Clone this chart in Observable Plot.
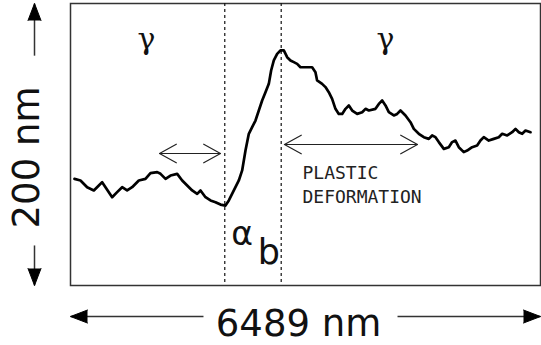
<!DOCTYPE html>
<html><head><meta charset="utf-8">
<script src="https://cdn.jsdelivr.net/npm/d3@7"></script>
<script src="https://cdn.jsdelivr.net/npm/@observablehq/plot@0.6"></script>
<style>body{margin:0;background:#fff}</style>
</head><body><div id="chart"></div>
<script>
// Surface height profile across an alpha_b band (nm)
const distanceNm = [55,138,230,322,391,437,483,575,644,713,782,851,943,1035,1104,1197,1243,1312,1381,1473,1542,1611,1680,1749,1795,1864,1933,2002,2071,2140,2186,2255,2324,2370,2416,2462,2508,2554,2600,2646,2692,2738,2770,2807,2853,2899,2945,2991,3037,3083,3129,3175,3221,3290,3336,3382,3405,3474,3520,3566,3612,3658,3704,3751,3797,3843,3889,3958,4027,4073,4119,4211,4257,4303,4349,4395,4464,4510,4556,4625,4694,4740,4809,4878,4947,4993,5039,5085,5154,5223,5269,5315,5361,5430,5476,5545,5614,5660,5706,5775,5844,5913,5960,6029,6098,6144,6190,6236,6282,6351];
const heightNm = [75.6,74.5,69.7,67.4,70.9,73.3,69.7,62.6,66.2,69.7,67.4,69.7,74.5,75.6,79.7,80.4,79.2,75.6,78.0,79.2,74.5,70.9,67.4,65.0,67.4,62.6,60.3,59.1,57.4,56.7,60.3,67.4,74.5,81.6,95.7,107.6,112.3,117.0,124.1,131.2,137.1,143.0,152.5,159.6,164.3,166.7,166.7,161.9,159.6,158.4,157.2,154.8,154.8,154.8,154.8,151.3,145.4,143.0,140.7,137.1,132.4,125.3,121.7,121.7,125.3,127.7,124.1,121.7,122.9,125.3,124.1,125.3,128.8,131.2,127.7,122.9,120.6,121.7,124.1,120.6,115.8,111.1,107.6,105.2,104.0,106.4,105.2,101.7,96.9,98.1,101.7,102.8,98.1,94.6,95.7,98.1,99.3,102.8,105.2,102.8,104.0,105.2,107.6,106.4,108.7,111.1,108.7,107.6,109.9,108.7];

const scanLengthNm = 6489;
const scanHeightNm = 200;
const bandEdgesNm = [2130, 2909];

// annotation anchors (data units, nm)
const phaseLabel = "γ";
const phaseAnchorsX = [1049, 4349];
const phaseAnchorY = 174.5;
const spanArrows = [
  {from: 1229, to: 2071, y: 93.6},
  {from: 2954, to: 4791, y: 100.0}
];
const noteLines = ["PLASTIC", "DEFORMATION"];
const noteX = 3203;
const noteY = [79.7, 62.7];
const xLabel = "6489 nm";
const yLabel = "200 nm";

const profile = distanceNm.map((d, i) => ({d, h: heightNm[i]}));
const arrowsBoth = spanArrows.flatMap(a => [
  {x1: a.from, x2: a.to, y: a.y},
  {x1: a.to, x2: a.from, y: a.y}
]);

const xArrowY = -22.0;
const yArrowX = -497;
const axisShafts = [
  {x1: 0, x2: 1836, y1: xArrowY, y2: xArrowY},
  {x1: 4515, x2: scanLengthNm, y1: xArrowY, y2: xArrowY},
  {x1: yArrowX, x2: yArrowX, y1: scanHeightNm, y2: 163},
  {x1: yArrowX, x2: yArrowX, y1: 28.4, y2: 0}
];
const axisHeads = [
  {x: 0, y: xArrowY, r: -90},
  {x: scanLengthNm, y: xArrowY, r: 90},
  {x: yArrowX, y: scanHeightNm, r: 0},
  {x: yArrowX, y: 0, r: 180}
];

const chart = Plot.plot({
  width: 541,
  height: 345,
  marginLeft: 70,
  marginRight: 1,
  marginTop: 3,
  marginBottom: 60,
  x: {domain: [0, scanLengthNm], axis: null},
  y: {domain: [0, scanHeightNm], axis: null},
  style: {background: "white", overflow: "visible"},
  marks: [
    Plot.frame({stroke: "#333", strokeWidth: 1.5}),
    Plot.ruleX(bandEdgesNm, {stroke: "#111", strokeWidth: 1.2, strokeDasharray: "3,3"}),
    Plot.line(profile, {x: "d", y: "h", stroke: "black", strokeWidth: 2.7, strokeLinejoin: "round"}),
    Plot.arrow(arrowsBoth, {x1: "x1", x2: "x2", y1: "y", y2: "y", stroke: "#222", strokeWidth: 1.2, headLength: 24, headAngle: 58}),
    Plot.text(phaseAnchorsX, {x: d => d, y: phaseAnchorY, text: () => phaseLabel, fontSize: 30, fontFamily: "DejaVu Serif", fill: "#111"}),
    Plot.text(noteLines, {x: noteX, y: (d, i) => noteY[i], text: d => d, textAnchor: "start", fontSize: 18, fontFamily: "DejaVu Sans Mono", fill: "#222", style: "letter-spacing:1px"}),
    Plot.text(["α"], {x: 2368, y: 36.2, text: d => d, fontSize: 33, fontFamily: "DejaVu Sans", fill: "#111"}),
    Plot.text(["b"], {x: 2740, y: 23.4, text: d => d, fontSize: 35, fontFamily: "DejaVu Sans", fill: "#111"}),
    Plot.link(axisShafts, {x1: "x1", x2: "x2", y1: "y1", y2: "y2", stroke: "#333", strokeWidth: 1.5}),
    Plot.vector(axisHeads, {x: "x", y: "y", rotate: "r", length: 17, r: 6.5, shape: "spike", anchor: "end", fill: "black", stroke: "black", strokeWidth: 1}),
    Plot.text([xLabel], {text: d => d, frameAnchor: "bottom", lineAnchor: "middle", textAnchor: "middle", dx: -7, dy: 39, fontSize: 37, fontFamily: "DejaVu Sans", fill: "#111"}),
    Plot.text([yLabel], {text: d => d, frameAnchor: "left", lineAnchor: "middle", textAnchor: "middle", rotate: -90, dx: -43, dy: 13, fontSize: 37, fontFamily: "DejaVu Sans", fill: "#111"})
  ]
});
document.getElementById("chart").appendChild(chart);
</script>
</body></html>
